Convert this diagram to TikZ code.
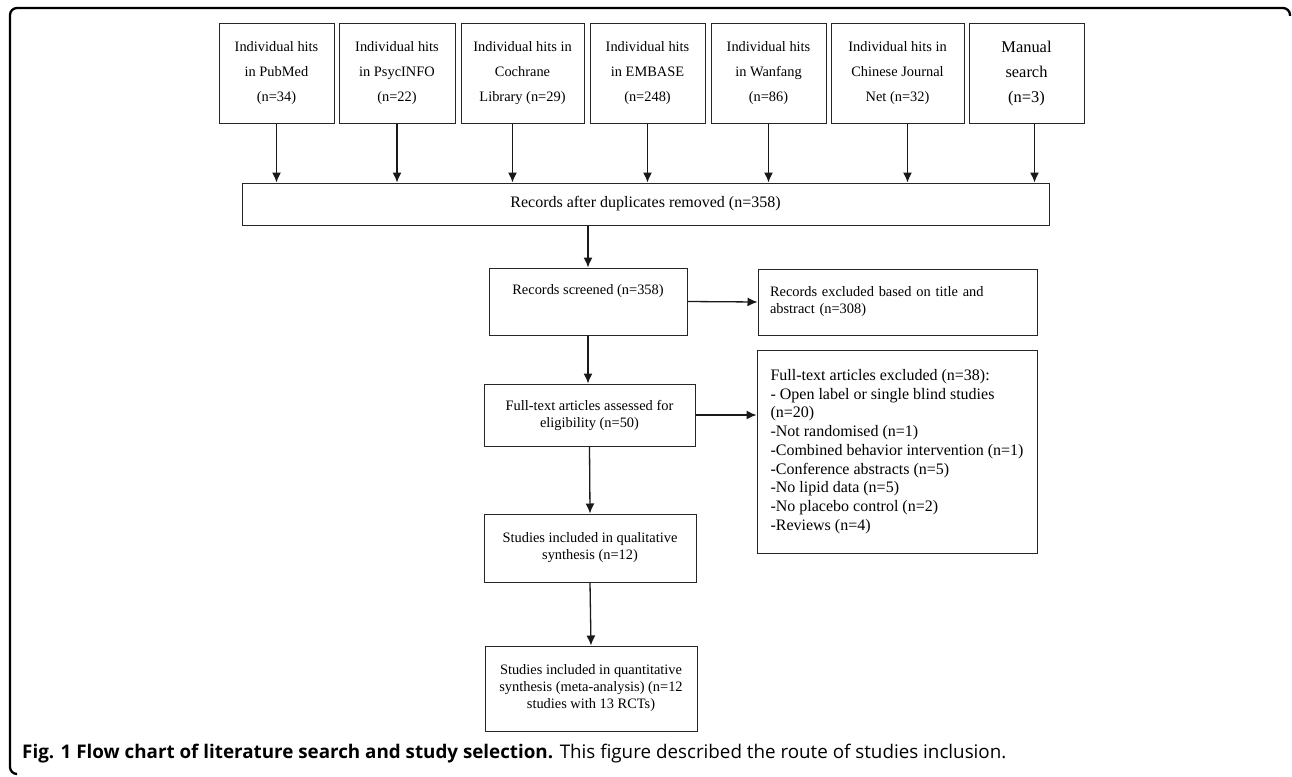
\documentclass[tikz,border=0pt]{standalone}
\usepackage{fontspec}
\setmainfont{Liberation Serif}
\newfontfamily\capfont{Open Sans}
\usetikzlibrary{arrows.meta}

\tikzset{hitbox/.style={draw=black!85,line width=1pt,align=center,inner sep=0pt,minimum height=99pt,font=\fontsize{14.4}{25}\selectfont},
  flowbox/.style={draw=black!85,line width=1pt,inner sep=0pt,font=\fontsize{14.4}{17}\selectfont},
  flowarrow/.style={line width=1.3pt,black!90,-{Latex[length=10pt,width=9pt]}}}

\begin{document}
\begin{tikzpicture}[x=1pt,y=-1pt]
  \useasboundingbox (0,0) rectangle (1292,776);
  \draw[line width=2.3pt,rounded corners=7pt] (1290,16) -- (1290,8) -- (10,8) -- (10,774) -- (16,774);

  % search sources
  \node[hitbox,minimum width=115pt] (pubmed) at (276.5,73.5) {Individual hits\\in PubMed\\(n=34)};
  \node[hitbox,minimum width=116pt] (psycinfo) at (397,73.5) {Individual hits\\in PsycINFO\\(n=22)};
  \node[hitbox,minimum width=123pt] (cochrane) at (522.5,73.5) {Individual hits in\\Cochrane\\Library (n=29)};
  \node[hitbox,minimum width=115pt] (embase) at (647.5,73.5) {Individual hits\\in EMBASE\\(n=248)};
  \node[hitbox,minimum width=115pt] (wanfang) at (768.5,73.5) {Individual hits\\in Wanfang\\(n=86)};
  \node[hitbox,minimum width=133pt] (cnki) at (897.5,73.5) {Individual hits in\\Chinese Journal\\Net (n=32)};
  \node[hitbox,minimum width=115pt,font=\fontsize{16.4}{25}\selectfont] (manual) at (1026.5,73.5) {Manual\\search\\(n=3)};

  \node[flowbox,minimum width=807pt,minimum height=42pt,font=\fontsize{16}{19}\selectfont] (records) at (645.5,204) {Records after duplicates removed (n=358)};

  % screening
  \node[flowbox,minimum width=198pt,text height=20pt,text depth=35pt,inner ysep=6pt] (screened) at (588,301.5) {Records screened (n=358)};
  \node[flowbox,text width=255pt,inner xsep=12pt,minimum height=66pt,align=left] (excl1) at (897.5,302) {Records excluded based on title and\\abstract (n=308)};
  \node[flowbox,minimum width=211pt,minimum height=62pt,align=center] (fulltext) at (589.5,415) {Full-text articles assessed for\\eligibility (n=50)};
  \node[flowbox,minimum width=280pt,minimum height=203pt,align=left,font=\fontsize{16}{18.7}\selectfont] (excl2) at (897,451.5) {Full-text articles excluded (n=38):\\- Open label or single blind studies\\(n=20)\\-Not randomised (n=1)\\-Combined behavior intervention (n=1)\\-Conference abstracts (n=5)\\-No lipid data (n=5)\\-No placebo control (n=2)\\-Reviews (n=4)};
  \node[flowbox,minimum width=212pt,minimum height=68pt,align=center] (qual) at (590,548) {Studies included in qualitative\\synthesis (n=12)};
  \node[flowbox,minimum width=212pt,minimum height=85pt,align=center] (quant) at (591,688.5) {Studies included in quantitative\\synthesis (meta-analysis) (n=12\\studies with 13 RCTs)};

  \foreach \hit/\dx in {pubmed/0,psycinfo/0,cochrane/-10,embase/0,wanfang/0,cnki/10,manual/8}
    \draw[flowarrow] ([xshift=\dx pt]\hit.south) -- ([xshift=\dx pt]\hit.south |- records.north);
  \draw[flowarrow] (records.south -| screened.north) -- (screened.north);
  \draw[flowarrow] (screened.east) -- (excl1.west);
  \draw[flowarrow] (screened.south) -- (screened.south |- fulltext.north);
  \draw[flowarrow] (fulltext.east) -- (fulltext.east -| excl2.west);
  \draw[flowarrow] (fulltext.south) -- (qual.north);
  \draw[flowarrow] (qual.south) -- (quant.north);

  \node[anchor=base west,inner sep=0pt,font=\capfont\fontsize{18.8}{22}\selectfont] (caption) at (22,758) {\textbf{Fig. 1 Flow chart of literature search and study selection.} This figure described the route of studies inclusion.};
\end{tikzpicture}
\end{document}
